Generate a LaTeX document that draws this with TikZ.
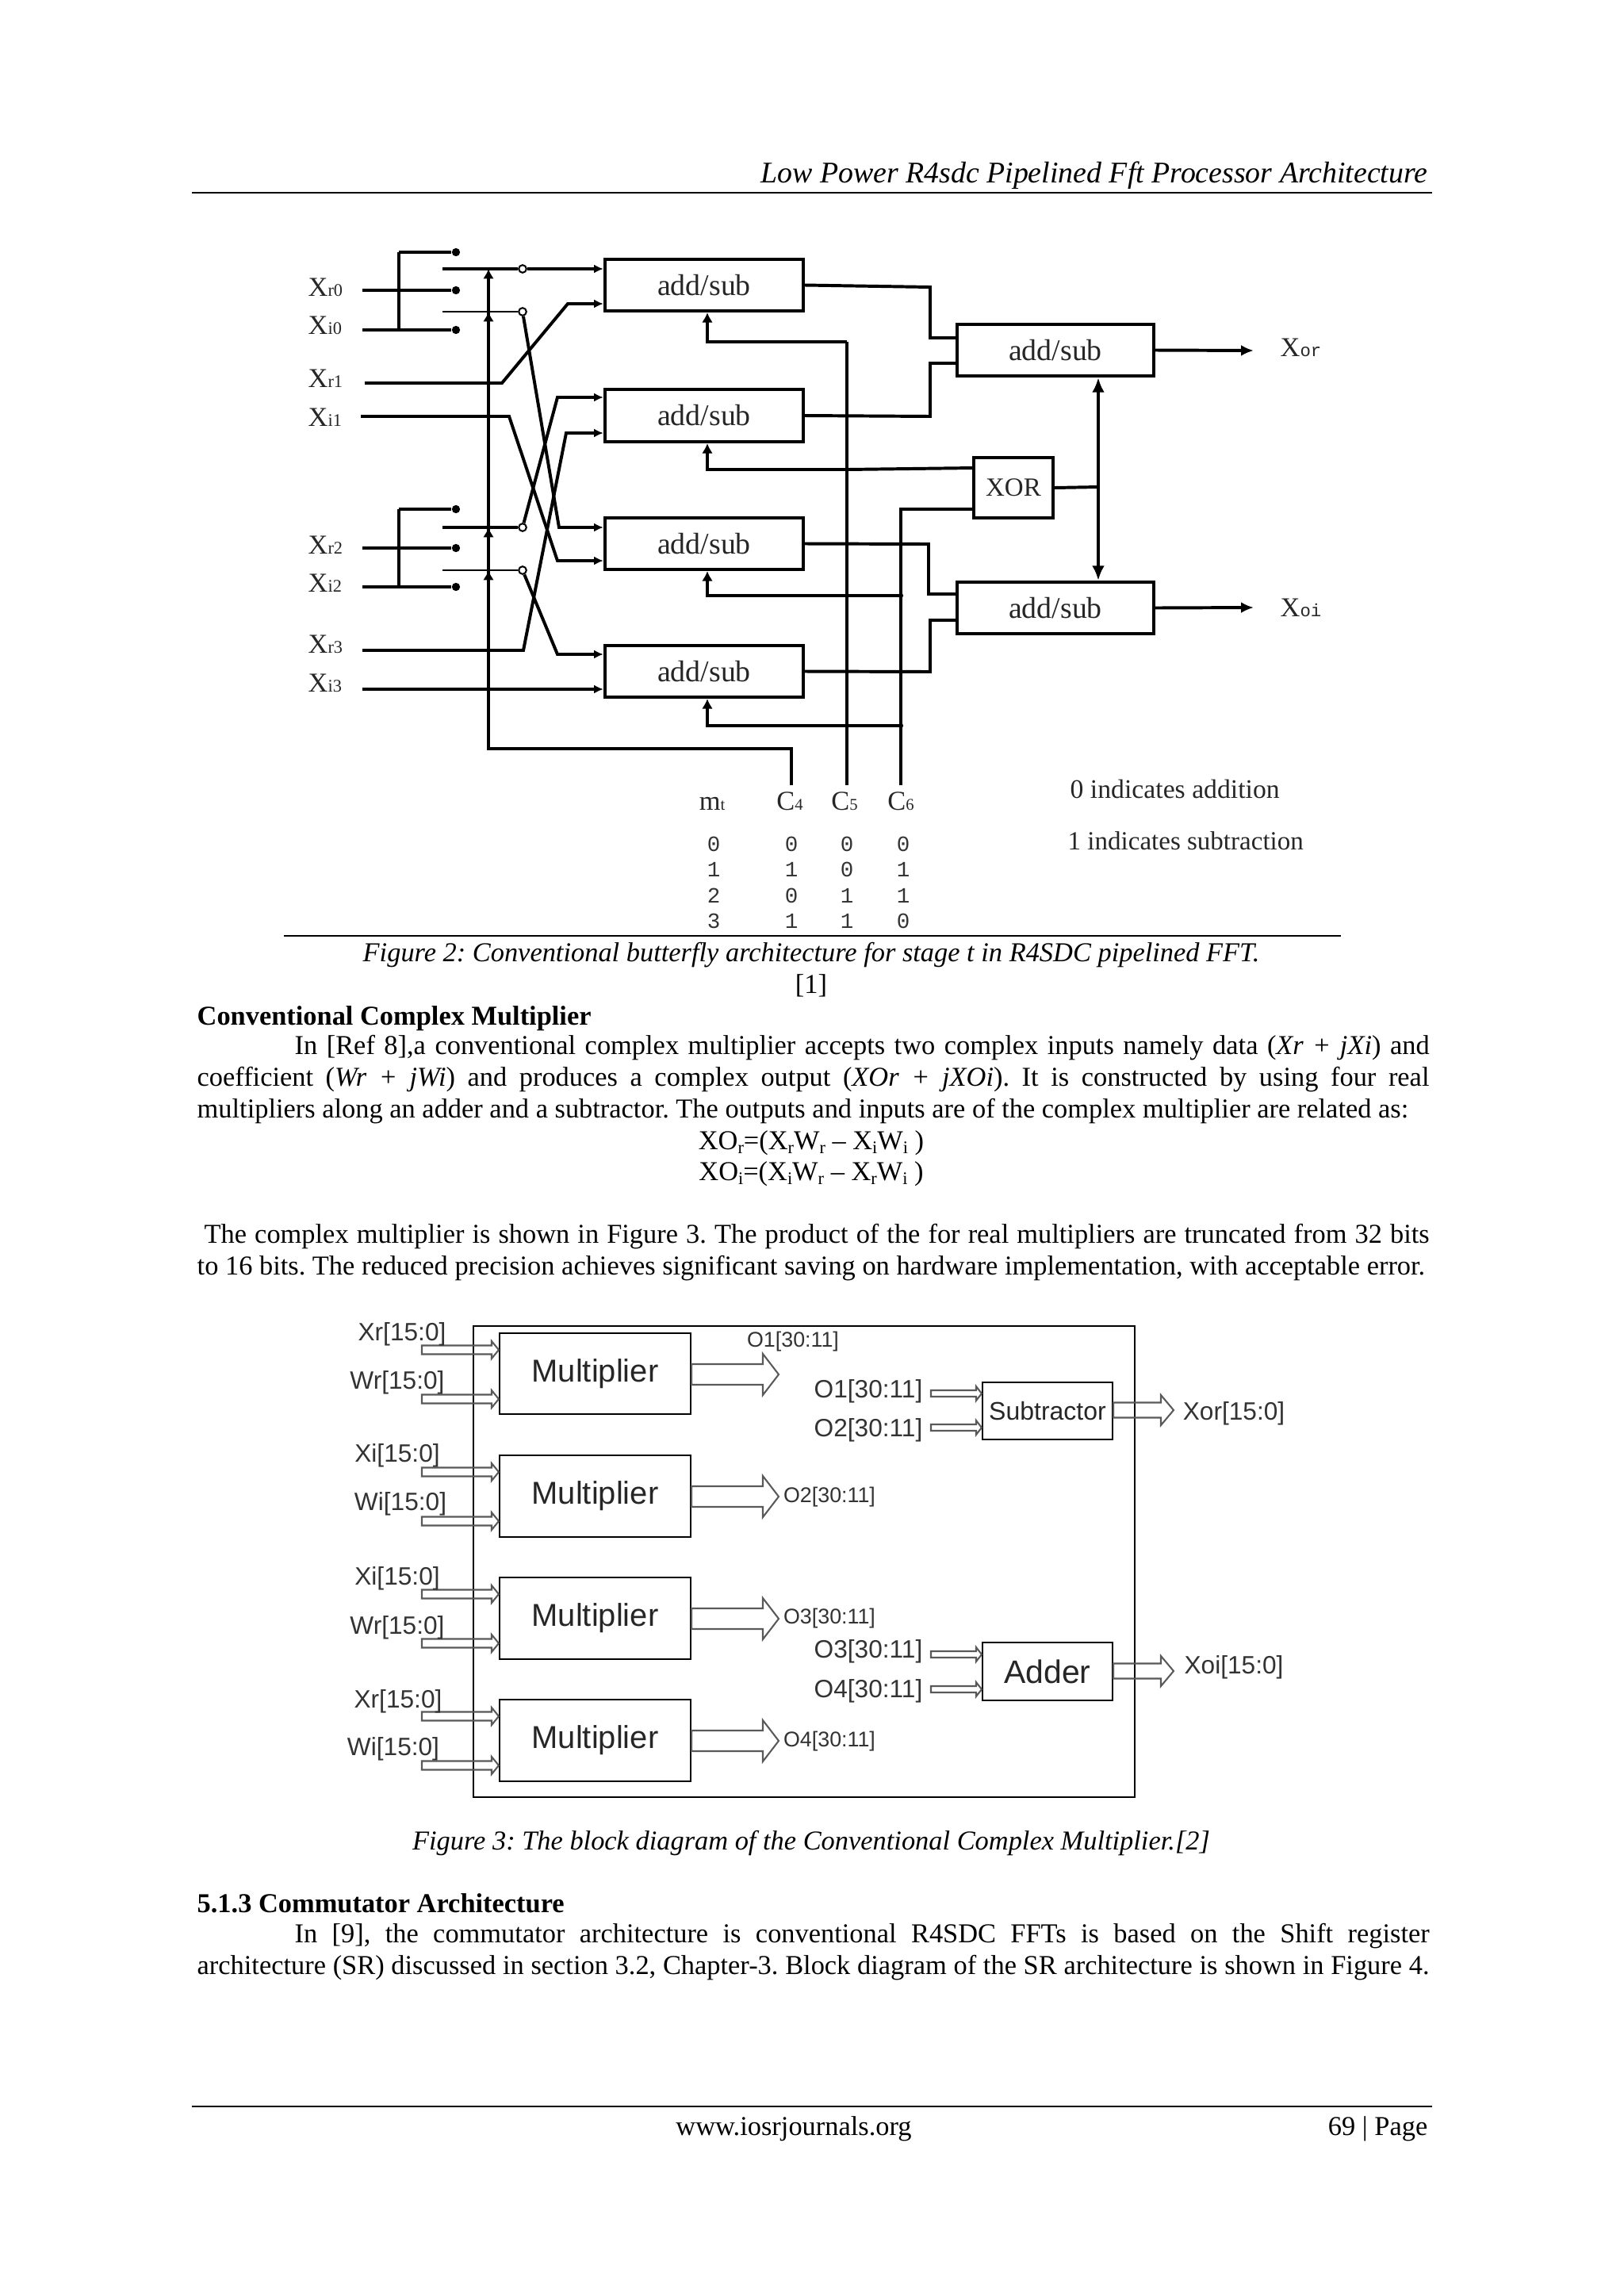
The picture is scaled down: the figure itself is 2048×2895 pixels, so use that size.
\documentclass[tikz,border=0pt]{standalone}
\usepackage{fontspec}
\setmainfont{Liberation Serif}
\setsansfont{Liberation Sans}
\setmonofont{Liberation Mono}
\usetikzlibrary{arrows.meta,calc}
\frenchspacing
\newcommand\fs[1]{\fontsize{#1}{#1}\selectfont}
\newcommand\xl[2]{{\fs{10}X}{\fs{6.5}#2}}
\newcommand\xm[2]{{\fs{10}X}{\fs{6.5}\ttfamily #2}}
\newcommand\cl[2]{{\fs{10}#1}{\fs{6}#2}}
\newcommand\subs[1]{\raisebox{-1.6pt}{\fs{6.5}#1}}
\newcommand\blk[7][]{\node[#1,minimum width={(#5-#3)*0.2907pt},minimum height={(#6-#4)*0.2907pt}] (#2) at ({(#3+#5)/2},{(#4+#6)/2}) {#7};}
\newcommand\harrow[5]{\coordinate (hs) at (#1); \coordinate (ht) at (#2);
 \draw[hollowline] (ht) -- ++(-#5,-#4) -- ++(0,#4-#3) -- ($(hs)+(0,-#3)$) -- ($(hs)+(0,#3)$) -- ($(ht)+(-#5,#3)$) -- ++(0,#4-#3) -- cycle;}
\newcommand\jline[5]{\node[pagetext] (#1) at (#2,#3) {\makebox[#4pt][s]{#5}};}
\tikzset{
 pagetext/.style={anchor=base west,inner sep=0pt,font=\fs{10}},
 pagecenter/.style={anchor=base,inner sep=0pt,font=\fs{10}},
 wire/.style={line width=1.15pt,line join=miter},
 thinwire/.style={line width=.85pt},
 tip/.style={wire,-{Latex[length=3.6pt,width=4pt]}},
 addbox/.style={draw,line width=1.25pt,inner sep=0pt,font=\fs{11},text=black!85},
 dotnode/.style={circle,fill,inner sep=0pt,minimum size=3pt},
 ringnode/.style={circle,draw,fill=white,line width=.6pt,inner sep=0pt,minimum size=2.8pt},
 lab/.style={anchor=base west,inner sep=0pt,text=black!85},
 digit/.style={inner sep=0pt,font=\fs{8}\ttfamily,text=black!80},
 mbox/.style={draw,line width=.6pt,inner sep=0pt,font=\sffamily\fs{11.6},text=black!85},
 hollowline/.style={draw=black!65,line width=.6pt},
 siglab/.style={inner sep=0pt,font=\sffamily\fs{9.2},text=black!80},
 siglabs/.style={inner sep=0pt,font=\sffamily\fs{7.8},text=black!80},
 rulea/.style={line width=.8pt},
 ruleb/.style={line width=.4pt},
}
\begin{document}
\begin{tikzpicture}[x=0.2907pt,y=-0.2907pt]
\useasboundingbox (0,0) rectangle (2048,2895);
% ---- page furniture
\node[pagetext,anchor=base east,font=\itshape\fs{11}] (hdr) at (1801,230) {Low Power R4sdc Pipelined Fft Processor Architecture};
\coordinate (hrA) at (242,243); \coordinate (hrB) at (1806,243);
\draw[rulea] (hrA) -- (hrB);
\coordinate (frA) at (242,2656); \coordinate (frB) at (1806,2656);
\draw[rulea] (frA) -- (frB);
\coordinate (figA) at (358,1180); \coordinate (figB) at (1691,1180);
\draw[ruleb] (figA) -- (figB);
\node[pagecenter,font=\itshape\fs{10}] (cap2) at (1023,1212) {Figure 2: Conventional butterfly architecture for stage t in R4SDC pipelined FFT.};
\node[pagecenter] (cap2b) at (1023,1252) {[1]};
\node[pagetext,font=\bfseries\fs{10}] (h1) at (248,1292) {Conventional Complex Multiplier};
\jline{p1}{371}{1329}{416}{In [Ref 8],a conventional complex multiplier accepts two complex inputs namely data (\textit{Xr + jXi}) and}
\jline{p2}{248}{1369}{451.7}{coefficient (\textit{Wr + jWi}) and produces a complex output (\textit{XOr + jXOi}). It is constructed by using four real}
\node[pagetext] (p3) at (248,1409) {multipliers along an adder and a subtractor. The outputs and inputs are of the complex multiplier are related as:};
\node[pagecenter] (e1) at (1023,1449) {XO\subs{r}=(X\subs{r}W\subs{r} – X\subs{i}W\subs{i} )};
\node[pagecenter] (e2) at (1023,1488) {XO\subs{i}=(X\subs{i}W\subs{r} – X\subs{r}W\subs{i} )};
\jline{p4}{257}{1567}{449.1}{The complex multiplier is shown in Figure 3. The product of the for real multipliers are truncated from 32 bits}
\node[pagetext] (p5) at (248,1607) {to 16 bits. The reduced precision achieves significant saving on hardware implementation, with acceptable error.};
\node[pagecenter,font=\itshape\fs{10}] (cap3) at (1023,2332) {Figure 3: The block diagram of the Conventional Complex Multiplier.[2]};
\node[pagetext,font=\bfseries\fs{10}] (h2) at (248,2411) {5.1.3 Commutator Architecture};
\jline{p6}{371}{2449}{416}{In [9], the commutator architecture is conventional R4SDC FFTs is based on the Shift register}
\jline{p7}{248}{2489}{451.7}{architecture (SR) discussed in section 3.2, Chapter-3. Block diagram of the SR architecture is shown in Figure 4.}
\node[pagecenter] (f1) at (1001,2692) {www.iosrjournals.org};
\node[pagetext,anchor=base east] (f2) at (1801,2692) {69 | Page};
% ---- Figure 2: boxes
\blk[addbox]{B1}{763}{327}{1013}{392}{add/sub}
\blk[addbox]{B2}{763}{491}{1013}{557}{add/sub}
\blk[addbox]{B3}{763}{653}{1013}{718}{add/sub}
\blk[addbox]{B4}{763}{814}{1013}{879}{add/sub}
\blk[addbox]{R1}{1207}{409}{1455}{474}{add/sub}
\blk[addbox]{R2}{1207}{734}{1455}{799}{add/sub}
\blk[addbox,font=\fs{9.6}]{XR}{1228}{577}{1328}{653}{XOR}
% input labels
\node[lab] (lXr0) at (388,373) {\xl{X}{r0}};
\node[lab] (lXi0) at (388,421) {\xl{X}{i0}};
\node[lab] (lXr1) at (388,488) {\xl{X}{r1}};
\node[lab] (lXi1) at (388,537) {\xl{X}{i1}};
\node[lab] (lXr2) at (388,698) {\xl{X}{r2}};
\node[lab] (lXi2) at (388,746) {\xl{X}{i2}};
\node[lab] (lXr3) at (388,823) {\xl{X}{r3}};
\node[lab] (lXi3) at (388,872) {\xl{X}{i3}};
% switch dots and rings
\node[dotnode] (d1) at (575,318) {}; \node[dotnode] (d2) at (575,366) {}; \node[dotnode] (d3) at (575,416) {};
\node[dotnode] (d4) at (575,642) {}; \node[dotnode] (d5) at (575,691) {}; \node[dotnode] (d6) at (575,740) {};
\coordinate (s1) at (457,366); \coordinate (s2) at (457,416); \coordinate (s3) at (457,691); \coordinate (s4) at (457,740);
\coordinate (b1) at (503,318); \coordinate (b2) at (503,416); \coordinate (b3) at (503,642); \coordinate (b4) at (503,740);
\draw[wire] (s1) -- (d2); \draw[wire] (s2) -- (d3); \draw[wire] (b1) -- (d1); \draw[wire] (b1) -- (b2);
\draw[wire] (s3) -- (d5); \draw[wire] (s4) -- (d6); \draw[wire] (b3) -- (d4); \draw[wire] (b3) -- (b4);
% control C4 with arrows on the switch lines
\coordinate (u1) at (616,339); \coordinate (u2) at (616,393); \coordinate (u3) at (616,665); \coordinate (u4) at (616,719);
\coordinate (c4end) at (998,990); \coordinate (c4turn) at (616,944);
\draw[tip] (c4end) |- (c4turn) -- (u1);
\draw[tip] ($(u2)+(0,14)$) -- (u2);
\draw[tip] ($(u3)+(0,14)$) -- (u3);
\draw[tip] ($(u4)+(0,14)$) -- (u4);
% switch outputs
\coordinate (t1) at (558,339); \coordinate (t2) at (558,393); \coordinate (t3) at (558,665); \coordinate (t4) at (558,719);
\node[ringnode] (r1) at (659,339) {}; \node[ringnode] (r2) at (659,393) {}; \node[ringnode] (r3) at (659,665) {}; \node[ringnode] (r4) at (659,719) {};
\draw[wire] (t1) -- (r1); \draw[thinwire] (t2) -- (r2); \draw[wire] (t3) -- (r3); \draw[thinwire] (t4) -- (r4);
\tikzset{intip/.style={wire,-{Latex[length=3.4pt,width=3.2pt]}}}
\draw[intip] (r1) -- (r1 -| B1.west);
\coordinate (a1) at (460,483); \coordinate (a2) at (633,483); \coordinate (a3) at (716,383);
\draw[intip] (a1) -- (a2) -- (a3) -- (a3 -| B1.west);
\coordinate (e2a) at (703,501);
\draw[intip] (r3) -- (e2a) -- (e2a -| B2.west);
\coordinate (x3a) at (457,820); \coordinate (x3b) at (660,820); \coordinate (x3c) at (714,546);
\draw[intip] (x3a) -- (x3b) -- (x3c) -- (x3c -| B2.west);
\coordinate (e3a) at (705,665);
\draw[intip] (r2) -- (e3a) -- (e3a -| B3.west);
\coordinate (x1a) at (455,525); \coordinate (x1b) at (642,525); \coordinate (x1c) at (703,707);
\draw[intip] (x1a) -- (x1b) -- (x1c) -- (x1c -| B3.west);
\coordinate (e4a) at (703,825);
\draw[intip] (r4) -- (e4a) -- (e4a -| B4.west);
\coordinate (x3i) at (457,869);
\draw[intip] (x3i) -- (x3i -| B4.west);
% control lines
\coordinate (k1) at (892,431); \coordinate (k2) at (892,592); \coordinate (k3) at (892,751); \coordinate (k4) at (892,915);
\coordinate (c5top) at (1068,431); \coordinate (c5end) at (1068,990); \coordinate (c5j) at (1068,592);
\coordinate (c6top) at (1136,642); \coordinate (c6end) at (1136,990); \coordinate (c6a) at (1136,751); \coordinate (c6b) at (1136,915);
\draw[tip] (c5top) -- (k1) -- (B1.south -| k1);
\draw[wire] (c5top) -- (c5end);
\draw[tip] (c5j) -- (k2) -- (B2.south -| k2);
\draw[tip] (c6a) -- (k3) -- (B3.south -| k3);
\draw[tip] (c6b) -- (k4) -- (B4.south -| k4);
\coordinate (xi1) at (1228,590); \coordinate (xi2) at (1228,642);
\draw[wire] (c5j) -- (xi1);
\draw[wire] (c6end) -- (c6top) -- (xi2);
\node[dotnode,minimum size=1.8pt] (jd1) at (1136,751) {};
\node[dotnode,minimum size=1.8pt] (jd2) at (1136,915) {};
% to the second-stage boxes
\coordinate (o1) at (1173,362); \coordinate (o1b) at (1173,426);
\draw[wire] (B1.east) -- (o1) -- (o1b) -- (o1b -| R1.west);
\coordinate (o2) at (1173,525); \coordinate (o2b) at (1173,458);
\draw[wire] (B2.east) -- (o2) -- (o2b) -- (o2b -| R1.west);
\coordinate (o3) at (1171,686); \coordinate (o3b) at (1171,749);
\draw[wire] (B3.east) -- (o3) -- (o3b) -- (o3b -| R2.west);
\coordinate (o4) at (1173,847); \coordinate (o4b) at (1173,782);
\draw[wire] (B4.east) -- (o4) -- (o4b) -- (o4b -| R2.west);
\coordinate (v) at (1385,614);
\draw[wire] (XR.east) -- (v);
\tikzset{bigtip/.style={wire,{Latex[length=5.4pt,width=4.6pt]}-{Latex[length=5.4pt,width=4.6pt]}}}
\draw[bigtip] (R1.south -| v) -- (R2.north -| v);
\coordinate (xor) at (1581,442); \coordinate (xoi) at (1581,766);
\draw[wire,-{Latex[length=4.6pt,width=4pt]}] (R1.east) -- (xor);
\draw[wire,-{Latex[length=4.6pt,width=4pt]}] (R2.east) -- (xoi);
\node[lab] (lXor) at (1614,449) {\xm{X}{or}};
\node[lab] (lXoi) at (1614,777) {\xm{X}{oi}};
% table
\node[lab,anchor=base] (tm) at (898,1021) {{\fs{10}m}{\fs{6}t}};
\node[lab,anchor=base] (tc4) at (996,1021) {\cl{C}{4}};
\node[lab,anchor=base] (tc5) at (1065,1021) {\cl{C}{5}};
\node[lab,anchor=base] (tc6) at (1136,1021) {\cl{C}{6}};
\node[digit] (n00) at (900,1064) {0}; \node[digit] (n01) at (998,1064) {0}; \node[digit] (n02) at (1068,1064) {0}; \node[digit] (n03) at (1139,1064) {0};
\node[digit] (n10) at (900,1096) {1}; \node[digit] (n11) at (998,1096) {1}; \node[digit] (n12) at (1068,1096) {0}; \node[digit] (n13) at (1139,1096) {1};
\node[digit] (n20) at (900,1129) {2}; \node[digit] (n21) at (998,1129) {0}; \node[digit] (n22) at (1068,1129) {1}; \node[digit] (n23) at (1139,1129) {1};
\node[digit] (n30) at (900,1161) {3}; \node[digit] (n31) at (998,1161) {1}; \node[digit] (n32) at (1068,1161) {1}; \node[digit] (n33) at (1139,1161) {0};
\node[lab,font=\fs{9.8}] (lg1) at (1349,1006) {0 indicates addition};
\node[lab,font=\fs{9.6}] (lg2) at (1346,1071) {1 indicates subtraction};
% ---- Figure 3
\coordinate (oa) at (597,1672); \coordinate (ob) at (1431,2266);
\draw[line width=.65pt] (oa) rectangle (ob);
\blk[mbox]{M1}{630}{1681}{871}{1783}{Multiplier}
\blk[mbox]{M2}{630}{1835}{871}{1938}{Multiplier}
\blk[mbox]{M3}{630}{1989}{871}{2092}{Multiplier}
\blk[mbox]{M4}{630}{2143}{871}{2246}{Multiplier}
\blk[mbox,font=\sffamily\fs{9.3}]{SUB}{1239}{1743}{1403}{1815}{Subtractor}
\blk[mbox,font=\sffamily\fs{11.9}]{ADD}{1239}{2071}{1403}{2144}{Adder}
% inputs of the multipliers
\harrow{532,1702}{M1.west |- 0,1702}{5.5}{11}{9}
\harrow{532,1764}{M1.west |- 0,1764}{5.5}{11}{9}
\harrow{532,1856}{M2.west |- 0,1856}{5.5}{11}{9}
\harrow{532,1918}{M2.west |- 0,1918}{5.5}{11}{9}
\harrow{532,2010}{M3.west |- 0,2010}{5.5}{11}{9}
\harrow{532,2072}{M3.west |- 0,2072}{5.5}{11}{9}
\harrow{532,2164}{M4.west |- 0,2164}{5.5}{11}{9}
\harrow{532,2226}{M4.west |- 0,2226}{5.5}{11}{9}
% outputs of the multipliers
\harrow{M1.east |- 0,1733}{982,1733}{13}{26}{20}
\harrow{M2.east |- 0,1887}{982,1887}{13}{26}{20}
\harrow{M3.east |- 0,2041}{982,2041}{13}{26}{20}
\harrow{M4.east |- 0,2195}{982,2195}{13}{26}{20}
% subtractor and adder
\harrow{1174,1757}{SUB.west |- 0,1757}{4}{9}{7}
\harrow{1174,1800}{SUB.west |- 0,1800}{4}{9}{7}
\harrow{1174,2086}{ADD.west |- 0,2086}{4}{9}{7}
\harrow{1174,2130}{ADD.west |- 0,2130}{4}{9}{7}
\harrow{SUB.east |- 0,1778}{1480,1778}{9.5}{19}{16}
\harrow{ADD.east |- 0,2107}{1480,2107}{9.5}{19}{16}
% signal labels
\node[siglab] (q1) at (507,1682) {Xr[15:0]};
\node[siglab] (q2) at (501,1743) {Wr[15:0]};
\node[siglab] (q3) at (501,1835) {Xi[15:0]};
\node[siglab] (q4) at (505,1896) {Wi[15:0]};
\node[siglab] (q5) at (501,1990) {Xi[15:0]};
\node[siglab] (q6) at (501,2052) {Wr[15:0]};
\node[siglab] (q7) at (502,2145) {Xr[15:0]};
\node[siglab] (q8) at (496,2205) {Wi[15:0]};
\node[siglabs] (w1) at (1000,1692) {O1[30:11]};
\node[siglabs] (w2) at (1046,1888) {O2[30:11]};
\node[siglabs] (w3) at (1046,2041) {O3[30:11]};
\node[siglabs] (w4) at (1046,2196) {O4[30:11]};
\node[siglab] (y1) at (1095,1754) {O1[30:11]};
\node[siglab] (y2) at (1095,1803) {O2[30:11]};
\node[siglab] (y3) at (1095,2082) {O3[30:11]};
\node[siglab] (y4) at (1095,2132) {O4[30:11]};
\node[siglab] (z1) at (1556,1782) {Xor[15:0]};
\node[siglab] (z2) at (1556,2102) {Xoi[15:0]};
\end{tikzpicture}
\end{document}
